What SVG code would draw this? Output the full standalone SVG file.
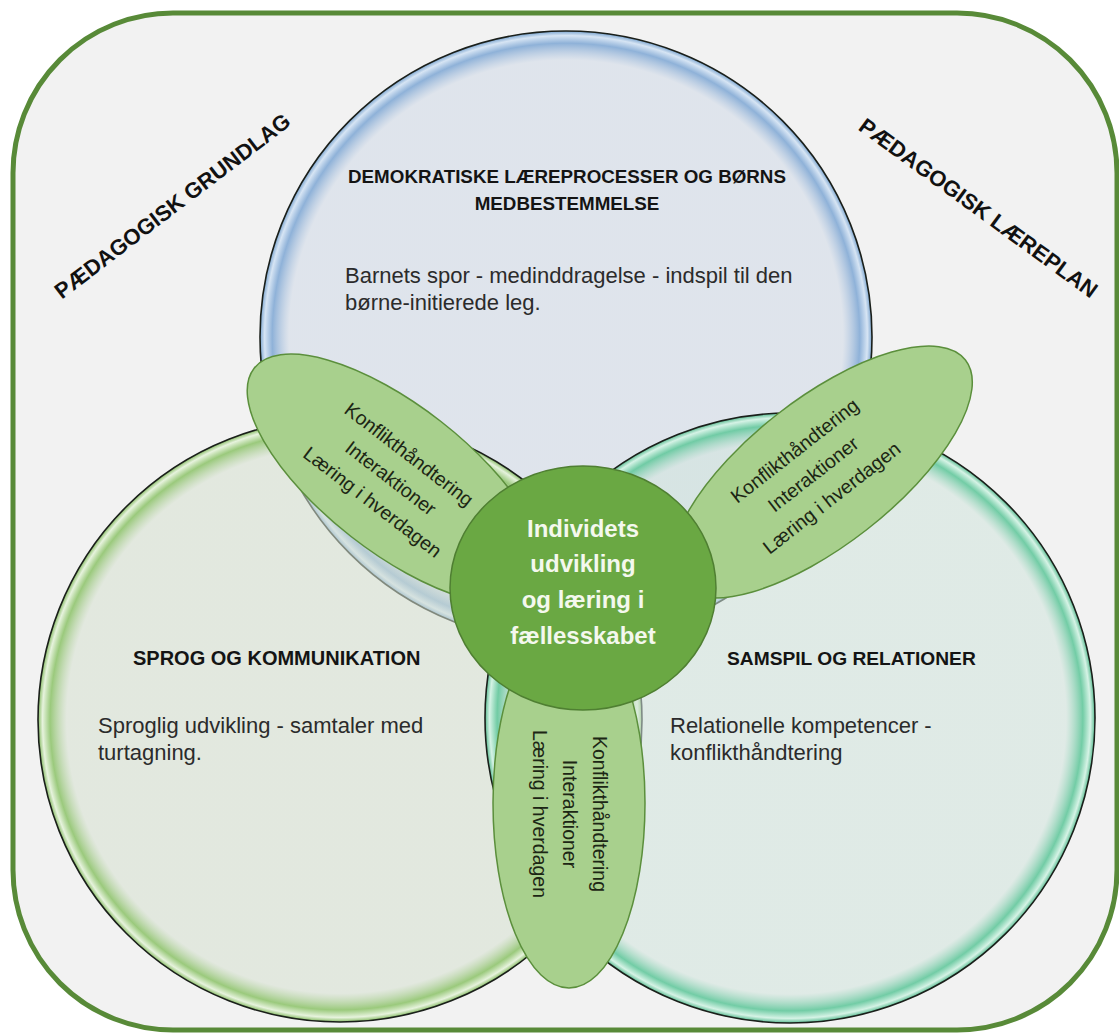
<svg xmlns="http://www.w3.org/2000/svg" width="1119" height="1036" viewBox="0 0 1119 1036">
<defs>
<radialGradient id="gBlue" cx="50%" cy="50%" r="50%">
<stop offset="0" stop-color="#cfd9e7" stop-opacity="0.55"/>
<stop offset="0.905" stop-color="#cfd9e7" stop-opacity="0.55"/>
<stop offset="0.96" stop-color="#86acd6" stop-opacity="0.92"/>
<stop offset="0.985" stop-color="#d5e4f4" stop-opacity="0.95"/>
<stop offset="1" stop-color="#7aa4cf" stop-opacity="1"/>
</radialGradient>
<radialGradient id="gLeft" cx="50%" cy="50%" r="50%">
<stop offset="0" stop-color="#d5e0cf" stop-opacity="0.55"/>
<stop offset="0.905" stop-color="#d5e0cf" stop-opacity="0.55"/>
<stop offset="0.96" stop-color="#93c672" stop-opacity="0.92"/>
<stop offset="0.985" stop-color="#e6f3dc" stop-opacity="0.95"/>
<stop offset="1" stop-color="#86bb63" stop-opacity="1"/>
</radialGradient>
<radialGradient id="gRight" cx="50%" cy="50%" r="50%">
<stop offset="0" stop-color="#d0e4dc" stop-opacity="0.55"/>
<stop offset="0.905" stop-color="#d0e4dc" stop-opacity="0.55"/>
<stop offset="0.96" stop-color="#67c99f" stop-opacity="0.92"/>
<stop offset="0.985" stop-color="#d4f3e5" stop-opacity="0.95"/>
<stop offset="1" stop-color="#58bb90" stop-opacity="1"/>
</radialGradient>
<style>
.frame{fill:#f2f2f2;stroke:#588a38;stroke-width:5}
.big{stroke:#1a1f1a;stroke-width:1.6}
.petal{fill:#a8d08d;stroke:#5b8f3c;stroke-width:1.5}
.hub{fill:#6aa843;stroke:#4f7f32;stroke-width:1.5}
.head{font-family:"Liberation Sans",Arial,sans-serif;font-weight:bold;fill:#141414}
.body{font-family:"Liberation Sans",Arial,sans-serif;font-size:22px;fill:#2b2b2b}
.corner{font-family:"Liberation Sans",Arial,sans-serif;font-weight:bold;font-size:22px;fill:#111;text-anchor:middle}
.ptxt{font-family:"Liberation Sans",Arial,sans-serif;font-size:19.5px;fill:#1c2614;text-anchor:middle}
.htxt{font-family:"Liberation Sans",Arial,sans-serif;font-weight:bold;font-size:24px;fill:#f4f8ee;text-anchor:middle}
</style>
</defs>

<g id="background">
<rect class="frame" x="13" y="13" width="1104" height="1017" rx="160" ry="160"/>
<text class="corner" transform="translate(177,212) rotate(-37.3)">PÆDAGOGISK GRUNDLAG</text>
<text class="corner" transform="translate(974,214) rotate(36)">PÆDAGOGISK LÆREPLAN</text>
</g>

<g id="connectors"/>

<g id="circle-demokrati">
<circle class="big" cx="566" cy="337" r="306" fill="url(#gBlue)" stroke="#1c2b3a"/>
</g>
<g id="circle-sprog">
<circle class="big" cx="340" cy="720" r="302" fill="url(#gLeft)"/>
</g>
<g id="circle-samspil">
<circle class="big" cx="790" cy="718" r="305" fill="url(#gRight)"/>
</g>

<g id="text-demokrati">
<text class="head" font-size="18.8" text-anchor="middle" x="567" y="183">DEMOKRATISKE LÆREPROCESSER OG BØRNS</text>
<text class="head" font-size="18.8" text-anchor="middle" x="567" y="210">MEDBESTEMMELSE</text>
<text class="body" x="345" y="283">Barnets spor - medinddragelse - indspil til den</text>
<text class="body" x="345" y="310">børne-initierede leg.</text>
</g>
<g id="text-sprog">
<text class="head" font-size="20" x="133" y="665">SPROG OG KOMMUNIKATION</text>
<text class="body" x="98" y="733">Sproglig udvikling - samtaler med</text>
<text class="body" x="98" y="760">turtagning.</text>
</g>
<g id="text-samspil">
<text class="head" font-size="19.2" x="727" y="665">SAMSPIL OG RELATIONER</text>
<text class="body" x="670" y="733">Relationelle kompetencer -</text>
<text class="body" x="670" y="760">konflikthåndtering</text>
</g>

<g id="petal-left">
<ellipse class="petal" cx="396" cy="479" rx="180" ry="73" transform="rotate(38 396 479)"/>
<text class="ptxt" transform="translate(391,478) rotate(37.5)"><tspan x="0" y="-23">Konflikthåndtering</tspan><tspan x="0" y="7">Interaktioner</tspan><tspan x="0" y="37">Læring i hverdagen</tspan></text>
</g>
<g id="petal-right">
<ellipse class="petal" cx="822" cy="472" rx="182" ry="73" transform="rotate(-38 822 472)"/>
<text class="ptxt" transform="translate(813,474) rotate(-38)"><tspan x="0" y="-23">Konflikthåndtering</tspan><tspan x="0" y="7">Interaktioner</tspan><tspan x="0" y="37">Læring i hverdagen</tspan></text>
</g>
<g id="petal-bottom">
<ellipse class="petal" cx="569" cy="803" rx="76" ry="185"/>
<text class="ptxt" transform="translate(570,814) rotate(90)"><tspan x="0" y="-23">Konflikthåndtering</tspan><tspan x="0" y="7">Interaktioner</tspan><tspan x="0" y="37">Læring i hverdagen</tspan></text>
</g>

<g id="hub">
<ellipse class="hub" cx="583" cy="588" rx="133" ry="122"/>
<text class="htxt" x="583" y="537">Individets</text>
<text class="htxt" x="583" y="572">udvikling</text>
<text class="htxt" x="583" y="608">og læring i</text>
<text class="htxt" x="583" y="644">fællesskabet</text>
</g>
</svg>
